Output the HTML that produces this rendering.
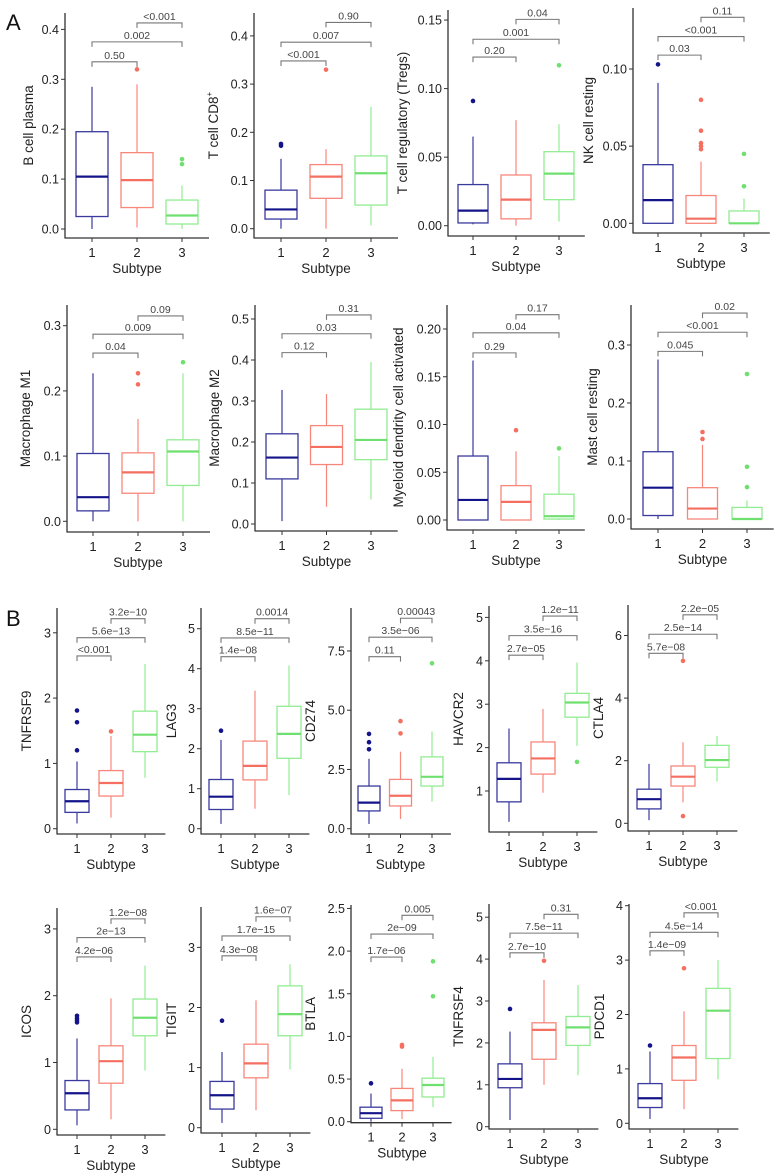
<!DOCTYPE html>
<html><head><meta charset="utf-8">
<style>
html,body{margin:0;padding:0;background:#fff;}
svg{display:block;font-family:"Liberation Sans",Arial,sans-serif;}
</style></head>
<body>
<svg id="fig" width="780" height="1175" viewBox="0 0 780 1175" xmlns="http://www.w3.org/2000/svg">
<text x="6" y="30" font-size="22" fill="#111">A</text>
<text x="6" y="626" font-size="22" fill="#111">B</text>
</svg>
<script>
// ---- data ----
const panelNames = ["B cell plasma","T cell CD8+","T cell regulatory (Tregs)","NK cell resting",
 "Macrophage M1","Macrophage M2","Myeloid dendrity cell activated","Mast cell resting",
 "TNFRSF9","LAG3","CD274","HAVCR2","CTLA4","ICOS","TIGIT","BTLA","TNFRSF4","PDCD1"];
const categories = ["1","2","3"];
const lo = [[0,.003,0],[0,0,.007],[.001,0,.003],[0,0,0],
 [0,0,0],[.007,.042,.06],[0,0,0],[0,0,0],
 [.08,.17,.78],[.12,.5,.84],[.2,.41,1.14],[.29,.96,2.04],[.1,.67,1.33],
 [.06,.15,.88],[.08,.29,.97],[0,.03,.17],[.16,1.0,1.23],[.08,.26,.81]];
const q1 = [[.025,.043,.01],[.02,.063,.049],[.002,.005,.019],[0,0,0],
 [.016,.043,.055],[.11,.145,.157],[0,0,.001],[.006,0,0],
 [.25,.5,1.18],[.48,1.22,1.76],[.75,.96,1.8],[.75,1.39,2.7],[.46,1.19,1.79],
 [.29,.69,1.4],[.31,.83,1.53],[.04,.13,.29],[.93,1.61,1.94],[.29,.79,1.19]];
const med = [[.105,.098,.027],[.04,.108,.115],[.011,.019,.038],[.015,.003,0],
 [.037,.075,.107],[.162,.188,.205],[.021,.019,.004],[.054,.018,0],
 [.42,.7,1.44],[.8,1.57,2.37],[1.1,1.39,2.19],[1.28,1.75,3.04],[.77,1.49,2.02],
 [.54,1.02,1.67],[.54,1.07,1.89],[.1,.25,.43],[1.14,2.31,2.37],[.46,1.21,2.07]];
const q3 = [[.195,.153,.058],[.08,.133,.151],[.03,.037,.054],[.038,.018,.008],
 [.104,.105,.125],[.22,.24,.28],[.067,.036,.027],[.116,.054,.02],
 [.6,.89,1.8],[1.23,2.19,3.06],[1.8,2.08,3.03],[1.65,2.13,3.25],[1.09,1.83,2.49],
 [.73,1.25,1.95],[.77,1.39,2.36],[.17,.39,.51],[1.5,2.48,2.63],[.73,1.43,2.48]];
const hi = [[.285,.29,.087],[.145,.165,.253],[.065,.077,.074],[.091,.04,.016],
 [.227,.157,.227],[.327,.317,.395],[.167,.072,.067],[.275,.128,.032],
 [1.03,1.42,2.52],[2.22,3.45,4.08],[2.95,3.25,4.1],[2.44,2.89,3.96],[1.9,2.59,2.79],
 [1.36,1.96,2.45],[1.26,2.12,2.72],[.33,.62,.76],[2.27,3.5,3.38],[1.32,2.06,3.0]];
const outliers = [[[],[.32],[.13,.14]],[[.172,.176],[.33],[]],[[.091],[],[.117]],[[.103],[.048,.05,.052,.06,.08],[.024,.045]],
 [[],[.21,.227],[.244]],[[],[],[]],[[],[.094],[.075]],[[],[.138,.15],[.055,.09,.25]],
 [[1.2,1.63,1.81],[1.49],[]],[[2.45],[],[]],[[3.35,3.65,4.0],[4.02,4.54],[6.98]],[[],[],[1.67]],[[],[.23,5.19],[]],
 [[1.6,1.63,1.66,1.7],[],[]],[[1.78],[],[]],[[.45],[.88,.9],[1.47,1.88]],[[2.81],[3.96],[]],[[1.43],[2.85],[]]];
const pLabels = [["0.50","0.002","<0.001"],["<0.001","0.007","0.90"],["0.20","0.001","0.04"],["0.03","<0.001","0.11"],
 ["0.04","0.009","0.09"],["0.12","0.03","0.31"],["0.29","0.04","0.17"],["0.045","<0.001","0.02"],
 ["<0.001","5.6e\u221213","3.2e\u221210"],["1.4e\u221208","8.5e\u221211","0.0014"],["0.11","3.5e\u221206","0.00043"],["2.7e\u221205","3.5e\u221216","1.2e\u221211"],["5.7e\u221208","2.5e\u221214","2.2e\u221205"],
 ["4.2e\u221206","2e\u221213","1.2e\u221208"],["4.3e\u221208","1.7e\u221215","1.6e\u221207"],["1.7e\u221206","2e\u221209","0.005"],["2.7e\u221210","7.5e\u221211","0.31"],["1.4e\u221209","4.5e\u221214","<0.001"]];
const bracketVals = [[.335,.375,.413],[.348,.387,.428],[.123,.136,.1505],[.109,.121,.1335],
 [.258,.287,.315],[.418,.464,.51],[.175,.196,.215],[.289,.322,.355],
 [2.645,2.925,3.216],[4.3,4.77,5.25],[7.26,8.08,8.88],[4.13,4.58,5.03],[5.43,6.04,6.66],
 [2.58,2.87,3.15],[2.86,3.19,3.51],[1.93,2.2,2.42],[4.15,4.62,5.07],[3.17,3.51,3.87]];
const tickVals = [[0,.1,.2,.3,.4],[0,.1,.2,.3,.4],[0,.05,.1,.15],[0,.05,.1],
 [0,.1,.2,.3],[0,.1,.2,.3,.4,.5],[0,.05,.1,.15,.2],[0,.1,.2,.3],
 [0,1,2,3],[0,1,2,3,4,5],[0,2.5,5,7.5],[1,2,3,4,5],[0,2,4,6],
 [0,1,2,3],[0,1,2,3],[0,.5,1,1.5,2,2.5],[0,1,2,3,4,5],[0,1,2,3,4]];
const tickDecimals = [1,1,2,2, 1,1,2,1, 0,0,1,0,0, 0,0,1,0,0];

// ---- layout (geometry, not data) ----
// spineX, bottomY, topY, zeroY, pxPerUnit, cat1X, catStep, boxW, ylabX
const geom = [
 [65,238,13,229,499,92,45,32,33],[254,238,13,228.7,482,281,45,32,218],[448,236,10,225.7,1371,473,43,30,407],[633,233,8,223.3,1543,658,43,30,593],
 [67,532,305,521.3,652,93,45,32,30],[255,531,305,524,410,282,44.5,32,219],[447,530,305,520,955,473,43,30,403],[631,529,305,519,580,658,44.5,30,597],
 [57,834,608,828.7,65.3,77,34,24,31],[201,834,608,828.7,40,221,34,24,176],[351,834,608,828.7,23.7,369,31.5,22,315],[489,832,606,834.4,43.4,509,34,24,463],[628,831,605,823.3,31.3,649,34,24,603],
 [57,1135,908,1129.3,66.8,77,34,24,31],[201,1133,907,1127.7,60.1,222,34,24,176],[351,1122.7,905,1121.7,85.3,371,31,22,315],[489,1129,904,1126.7,41.9,510,34,24,463],[629,1129,904,1123.3,54.4,650,34,24,604]];
const edgeCol = ["#3a3a9e","#f8877b","#92ec92"];
const medCol = ["#14148a","#f56f60","#6fe06f"];
const NS = "http://www.w3.org/2000/svg";
const svg = document.getElementById("fig");
function mk(tag, attrs, parent){ const e=document.createElementNS(NS,tag); for(const k in attrs) e.setAttribute(k,attrs[k]); (parent||svg).appendChild(e); return e; }

panelNames.forEach((name,p)=>{
  const [sx,by,ty,y0,sc,c1,step,bw,ylx] = geom[p];
  const yS = v => y0 - v*sc;
  const xS = i => c1 + i*step;
  const g = mk("g",{});
  
  
  const xEnd = xS(2) + step*0.6;
  const ya = mk("line",{x1:sx,y1:ty,x2:sx,y2:by+0.5,stroke:"#333","stroke-width":1.3},g);
  
  
  const xa = mk("line",{x1:sx,y1:by,x2:xEnd,y2:by,stroke:"#333","stroke-width":1.3},g);
  
  
  tickVals[p].forEach(v=>{
    const y=yS(v);
    mk("line",{x1:sx-4,y1:y,x2:sx,y2:y,stroke:"#333","stroke-width":1},g);
    const t = mk("text",{x:sx-6,y:y+4.5,"font-size":12.5,"text-anchor":"end",fill:"#222"},g);
    t.textContent = v.toFixed(tickDecimals[p]);
    
    
  });
  categories.forEach((c,i)=>{
    const x=xS(i);
    mk("line",{x1:x,y1:by,x2:x,y2:by+4,stroke:"#333","stroke-width":1},g);
    const t = mk("text",{x:x,y:by+19,"font-size":13,"text-anchor":"middle",fill:"#222"},g);
    t.textContent=c;
    
    
    // box
    const bg = mk("g",{},g);
    
    
    mk("line",{x1:x,y1:yS(hi[p][i]),x2:x,y2:yS(q3[p][i]),stroke:edgeCol[i],"stroke-width":1.2},bg);
    mk("line",{x1:x,y1:yS(q1[p][i]),x2:x,y2:yS(lo[p][i]),stroke:edgeCol[i],"stroke-width":1.2},bg);
    mk("rect",{x:x-bw/2,y:yS(q3[p][i]),width:bw,height:Math.max(0.5,yS(q1[p][i])-yS(q3[p][i])),fill:"none",stroke:edgeCol[i],"stroke-width":1.3},bg);
    mk("line",{x1:x-bw/2,y1:yS(med[p][i]),x2:x+bw/2,y2:yS(med[p][i]),stroke:medCol[i],"stroke-width":2.2},bg);
    outliers[p][i].forEach(v=>{
      const o = mk("circle",{cx:x,cy:yS(v),r:2.3,fill:medCol[i]},bg);
      
      
    });
  });
  // brackets: (1,2),(1,3),(2,3)
  const pairs=[[0,1],[0,2],[1,2]];
  pairs.forEach((pr,k)=>{
    const y=yS(bracketVals[p][k]), xa1=xS(pr[0]), xb=xS(pr[1]);
    const bk = mk("path",{d:`M${xa1},${y+5}V${y}H${xb}V${y+5}`,fill:"none",stroke:"#777","stroke-width":1.1},g);
    
    
    const t = mk("text",{x:(xa1+xb)/2,y:y-3,"font-size":10.5,"text-anchor":"middle",fill:"#444"},g);
    t.textContent=pLabels[p][k];
    
    
  });
  const st = mk("text",{x:xS(1),y:by+35,"font-size":13.5,"text-anchor":"middle",fill:"#222"},g);
  st.textContent="Subtype";
  
  
  const cy=(ty+by)/2;
  const yl = mk("text",{x:ylx,y:cy,"font-size":13.5,"text-anchor":"middle",fill:"#222",transform:`rotate(-90 ${ylx} ${cy})`},g);
  if(name==="T cell CD8+"){ yl.textContent="T cell CD8"; const ts=mk("tspan",{"font-size":8,dy:-6},yl); ts.textContent="+"; }
  else yl.textContent=name;
  
  
});
</script>
</body></html>
